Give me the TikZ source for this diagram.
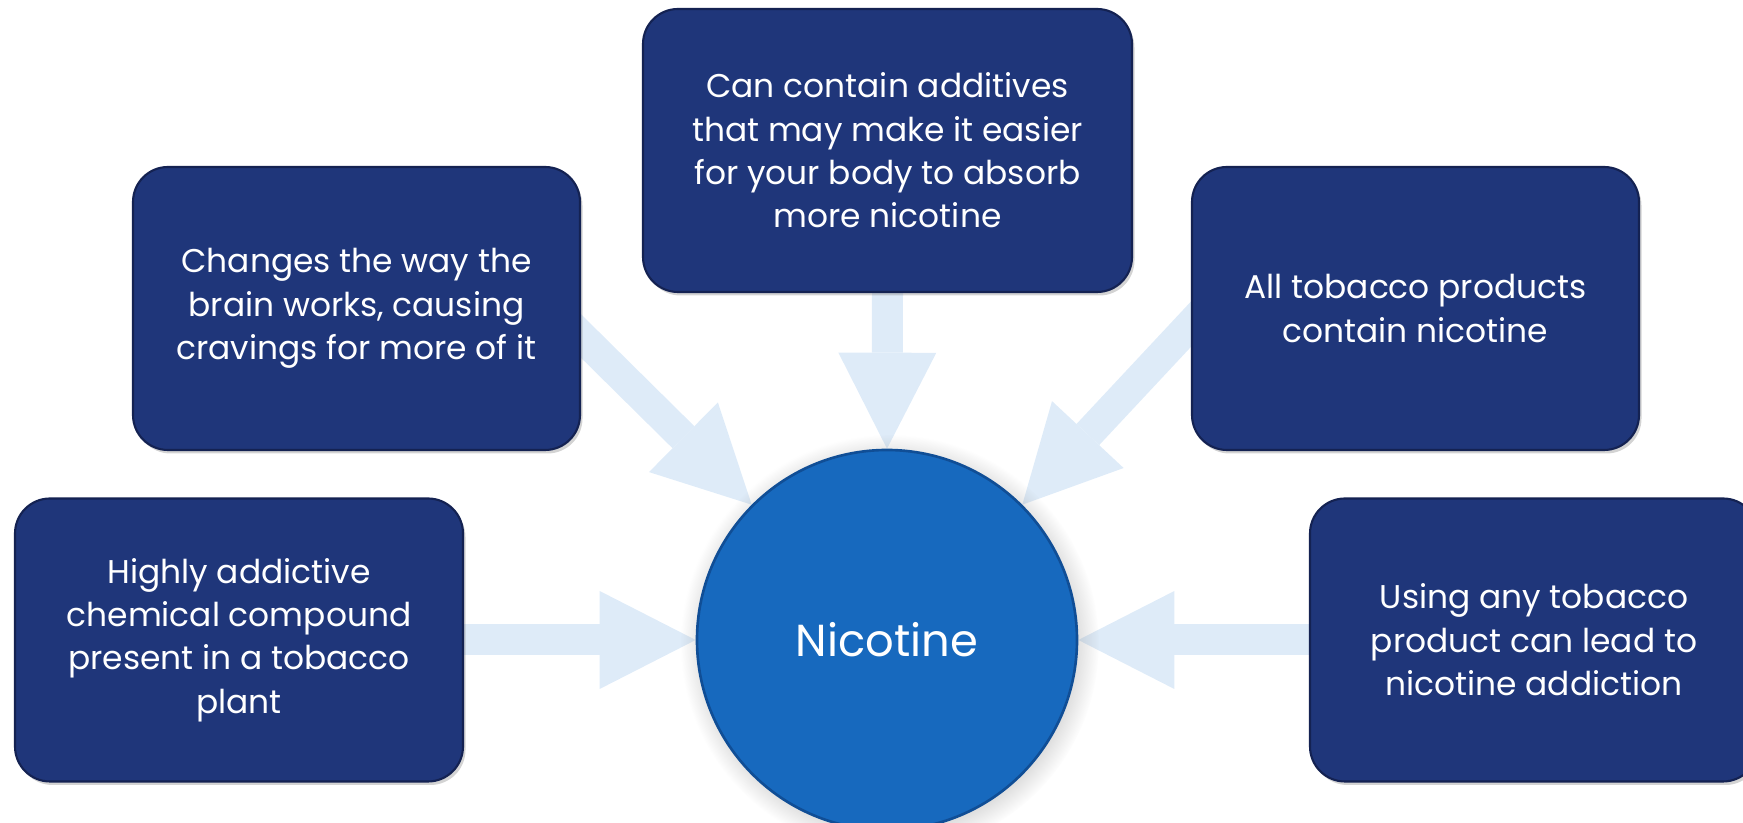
\documentclass[tikz,border=0pt]{standalone}
\usepackage{fontspec}
\setmainfont{Poppins}
\usepackage{tikz}
\usetikzlibrary{arrows.meta,positioning,shadows,backgrounds}
\definecolor{nvnavy}{RGB}{31,54,122}
\definecolor{nvedge}{RGB}{20,34,82}
\definecolor{nvblue}{RGB}{23,105,190}
\definecolor{nvblueedge}{RGB}{16,78,150}
\definecolor{nvpale}{RGB}{222,235,248}

\begin{document}
\begin{tikzpicture}[
    topicbox/.style={draw=nvedge,line width=1.2pt,fill=nvnavy,text=white,rounded corners=0.7cm,
        minimum width=8.94cm,minimum height=5.66cm,align=center,
        font=\fontsize{18.7}{24.7}\selectfont,
        drop shadow={shadow xshift=0.05cm,shadow yshift=-0.07cm,opacity=0.35}},
    hub/.style={circle,draw=nvblueedge,line width=1.5pt,fill=nvblue,text=white,
        minimum size=7.6cm,font=\fontsize{25.5}{30}\selectfont,
        circular drop={shadow xshift=0.05cm,shadow yshift=-0.07cm,opacity=0.35}},
    circular drop/.style={circular drop shadow={#1}},
    feed/.style={nvpale,line width=0.62cm,shorten <=-0.4cm,
        -{Triangle[length=1.92cm,width=1.96cm,line width=0pt]}}
  ]
  \useasboundingbox (0,0) rectangle (34.86,16.46);
  \node[hub] (nic) at (17.74,3.66) {Nicotine};
  \node[topicbox,minimum width=9.78cm] (top) at (17.75,13.45)
        {Can contain additives\\that may make it easier\\for your body to absorb\\more nicotine};
  \node[topicbox] (ul) at (7.13,10.29)
        {Changes the way the\\brain works, causing\\cravings for more of it};
  \node[topicbox] (ur) at (28.31,10.29)
        {All tobacco products\\contain nicotine};
  \node[topicbox,minimum width=8.96cm] (ll) at (4.78,3.66)
        {Highly addictive\\chemical compound\\present in a tobacco\\plant};
  \node[topicbox,minimum width=8.96cm] (lr) at (30.68,3.66)
        {Using any tobacco\\product can lead to\\nicotine addiction};
  \begin{scope}[on background layer]
    \draw[feed] (top.south) -- (nic.north);
    \draw[feed] (ul.-7) -- (nic.135);
    \draw[feed] (ur.184) -- (nic.45);
    \draw[feed] (ll.east) -- (nic.west);
    \draw[feed] (lr.west) -- (nic.east);
  \end{scope}
\end{tikzpicture}
\end{document}
